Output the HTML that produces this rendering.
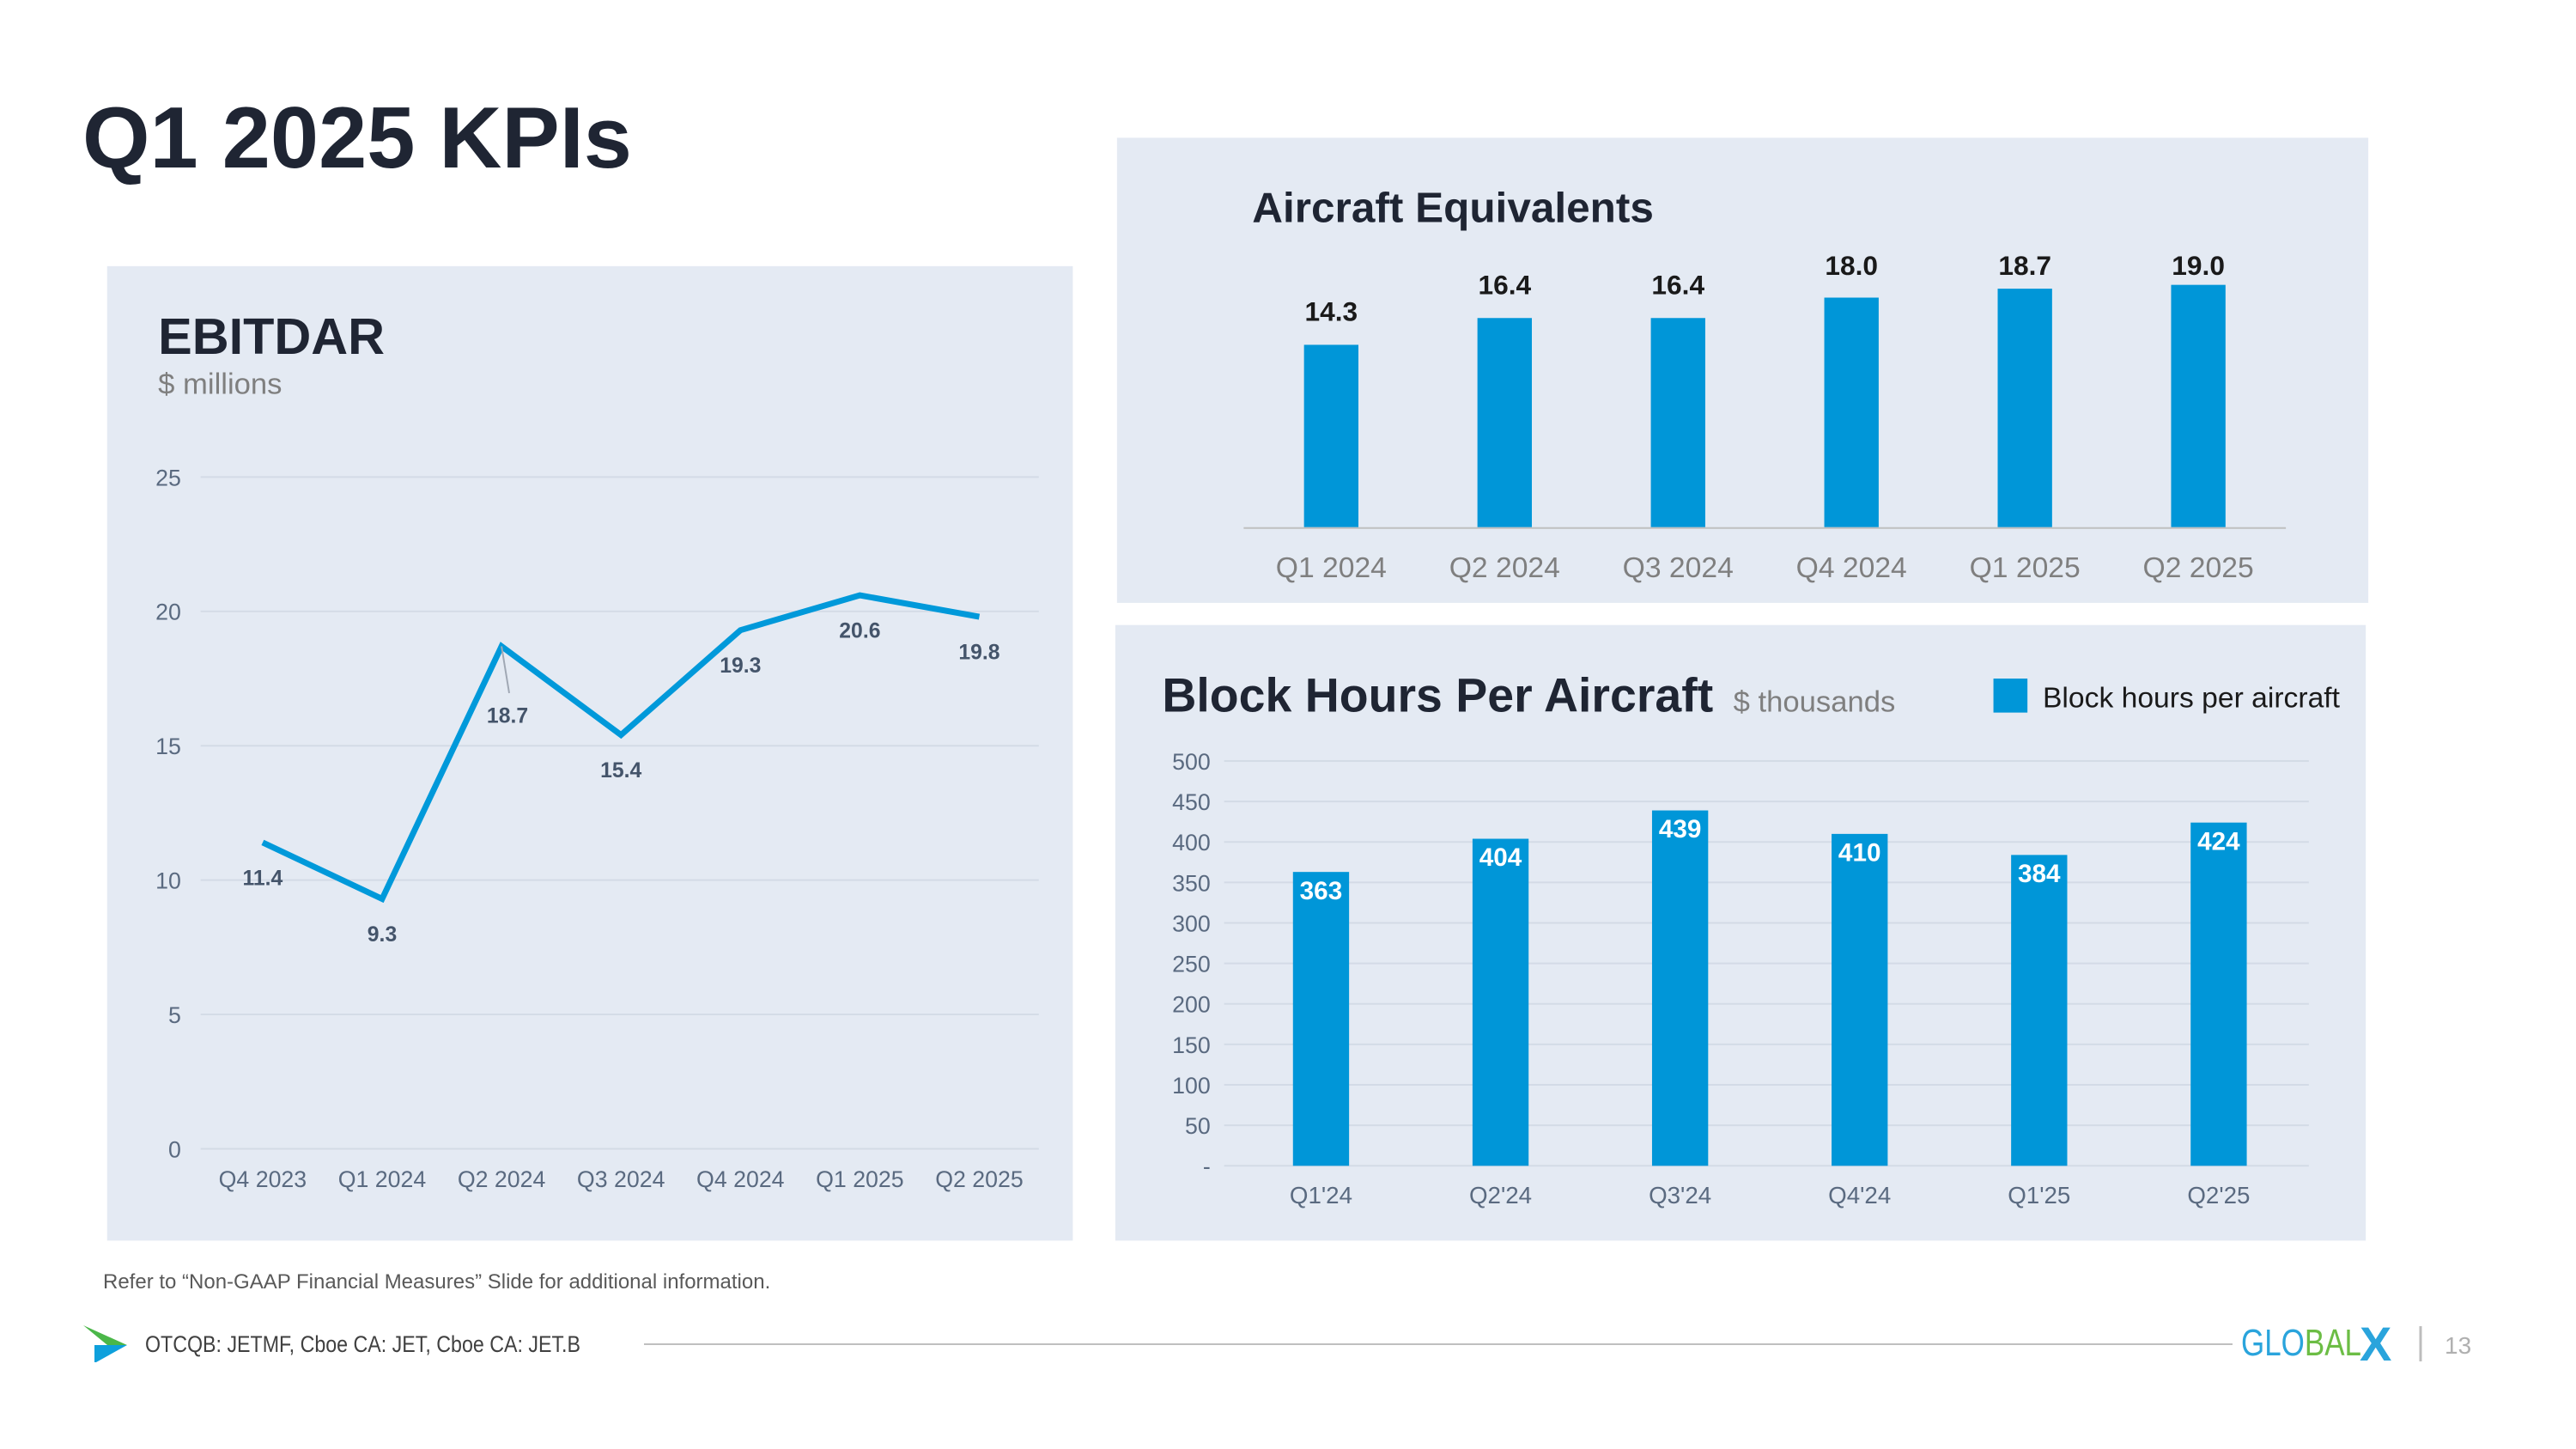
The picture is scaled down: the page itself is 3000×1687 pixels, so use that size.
<!DOCTYPE html>
<html><head><meta charset="utf-8"><style>
html,body{margin:0;padding:0;background:#fff;}
svg{display:block;}
text{font-family:"Liberation Sans",sans-serif;}
</style></head><body>
<svg id="s" width="3000" height="1687" viewBox="0 0 3000 1687" xmlns="http://www.w3.org/2000/svg">
<g transform="scale(0.99)">
<text x="97" y="197" font-size="102" font-weight="bold" fill="#1f2533">Q1 2025 KPIs</text>
<rect x="126" y="313" width="1136" height="1146" fill="#e4eaf3"/>
<text x="186" y="416" font-size="60" font-weight="bold" fill="#1f2533">EBITDAR</text>
<text x="186" y="463" font-size="35" fill="#7f7f7f">$ millions</text>
<g id="eb"></g>
<rect x="1314" y="162" width="1472" height="547" fill="#e4eaf3"/>
<text x="1473" y="261" font-size="50" font-weight="bold" fill="#1f2533">Aircraft Equivalents</text>
<g id="ae"></g>
<rect x="1312" y="735" width="1471" height="724" fill="#e4eaf3"/>
<text x="1367" y="837" font-size="56" font-weight="bold" fill="#1f2533">Block Hours Per Aircraft</text>
<text x="2039" y="837" font-size="35" fill="#7f7f7f">$ thousands</text>
<rect x="2345" y="798" width="40" height="40" fill="#0096d8"/>
<text x="2403" y="832" font-size="34" fill="#1a1a1a">Block hours per aircraft</text>
<g id="bh"></g>
</g>
<text x="120" y="1500" font-size="24" fill="#595959">Refer to “Non-GAAP Financial Measures” Slide for additional information.</text>
<polygon points="97,1543 148,1566 125,1566" fill="#4bb749"/>
<polygon points="110,1566 148,1566 112,1586 110,1586" fill="#0ea0dc"/>
<text x="169" y="1574" font-size="27" fill="#404040" textLength="507" lengthAdjust="spacingAndGlyphs">OTCQB: JETMF, Cboe CA: JET, Cboe CA: JET.B</text>
<line x1="750" y1="1565" x2="2600" y2="1565" stroke="#bfbfbf" stroke-width="2"/>
<text x="2610" y="1578" font-size="44" fill="#2aa4dc" textLength="140" lengthAdjust="spacingAndGlyphs">GLO<tspan fill="#6cbd45">BAL</tspan></text>
<text x="2748" y="1584" font-size="56" font-weight="bold" fill="#2aa4dc">X</text>
<line x1="2819" y1="1544" x2="2819" y2="1585" stroke="#bdbdbd" stroke-width="3"/>
<text x="2847" y="1576" font-size="28" fill="#b0b0b0">13</text>
</svg>
<script>
const NS="http://www.w3.org/2000/svg";
const ebCats=["Q4 2023","Q1 2024","Q2 2024","Q3 2024","Q4 2024","Q1 2025","Q2 2025"];
const ebVals=[11.4,9.3,18.7,15.4,19.3,20.6,19.8];
const ebTicks=[0,5,10,15,20,25];
const aeCats=["Q1 2024","Q2 2024","Q3 2024","Q4 2024","Q1 2025","Q2 2025"];
const aeVals=[14.3,16.4,16.4,18.0,18.7,19.0];
const bhCats=["Q1'24","Q2'24","Q3'24","Q4'24","Q1'25","Q2'25"];
const bhVals=[363,404,439,410,384,424];
const bhTicks=[0,50,100,150,200,250,300,350,400,450,500];
const bhTickLabels=["-","50","100","150","200","250","300","350","400","450","500"];

function mk(g,tag,attrs,txt){const e=document.createElementNS(NS,tag);for(const k in attrs)e.setAttribute(k,attrs[k]);if(txt!==undefined)e.textContent=txt;g.appendChild(e);return e;}

const eb=document.getElementById('eb');
const ebY=v=>1351-v*31.6, ebX=i=>309+i*140.5;
ebTicks.forEach(t=>{
  let l=mk(eb,'line',{x1:236,x2:1222,y1:ebY(t),y2:ebY(t),stroke:'#d3dbe6','stroke-width':2});
  
  
  let tx=mk(eb,'text',{x:213,y:ebY(t)+10,'text-anchor':'end','font-size':27,fill:'#5a6a80'},String(t));
  
  
});
ebCats.forEach((c,i)=>{
  let tx=mk(eb,'text',{x:ebX(i),y:1396,'text-anchor':'middle','font-size':27,fill:'#5a6a80'},c);
  
  
});
const pl=mk(eb,'polyline',{points:ebVals.map((v,i)=>ebX(i)+','+ebY(v)).join(' '),fill:'none',stroke:'#0099da','stroke-width':7,'stroke-linejoin':'miter'});


ebVals.forEach((v,i)=>{
  const lead=(i===2);
  const ly=ebY(v)+(lead?81:41), lx=ebX(i)+(lead?7:0);
  if(lead){
    let ln=mk(eb,'line',{x1:ebX(i),y1:ebY(v),x2:lx+2,y2:ly-26,stroke:'#a0a8b4','stroke-width':2});
    
    
  }
  let tx=mk(eb,'text',{x:lx,y:ly+9,'text-anchor':'middle','font-size':25,'font-weight':'bold',fill:'#44546a'},v.toFixed(1));
  
  
});

const ae=document.getElementById('ae');
const aeY=v=>620-v*15, aeX=i=>1566+i*204;
aeVals.forEach((v,i)=>{
  let r=mk(ae,'rect',{x:aeX(i)-32,y:aeY(v),width:64,height:620-aeY(v),fill:'#0096d8'});
  
  
  let tx=mk(ae,'text',{x:aeX(i),y:Math.max(aeY(v)-28,323),'text-anchor':'middle','font-size':32,'font-weight':'bold',fill:'#1a1a1a'},v.toFixed(1));
  
  
});
let aeAx=mk(ae,'line',{x1:1463,x2:2689,y1:621,y2:621,stroke:'#bfbfbf','stroke-width':2});


aeCats.forEach((c,i)=>{
  let tx=mk(ae,'text',{x:aeX(i),y:679,'text-anchor':'middle','font-size':34,fill:'#7f7f7f'},c);
  
  
});

const bh=document.getElementById('bh');
const bhY=v=>1371-v*0.952, bhX=i=>1554+i*211.2;
bhTicks.forEach((t,k)=>{
  let l=mk(bh,'line',{x1:1440,x2:2716,y1:bhY(t),y2:bhY(t),stroke:'#d3dbe6','stroke-width':2});
  
  
  let tx=mk(bh,'text',{x:1424,y:bhY(t)+10,'text-anchor':'end','font-size':27,fill:'#5a6a80'},bhTickLabels[k]);
  
  
});
bhVals.forEach((v,i)=>{
  let r=mk(bh,'rect',{x:bhX(i)-33,y:bhY(v),width:66,height:1371-bhY(v),fill:'#0096d8'});
  
  
  let tx=mk(bh,'text',{x:bhX(i),y:bhY(v)+32,'text-anchor':'middle','font-size':30,'font-weight':'bold',fill:'#ffffff'},String(v));
  
  
});
bhCats.forEach((c,i)=>{
  let tx=mk(bh,'text',{x:bhX(i),y:1415,'text-anchor':'middle','font-size':28,fill:'#5a6a80'},c);
  
  
});
</script>
</body></html>
